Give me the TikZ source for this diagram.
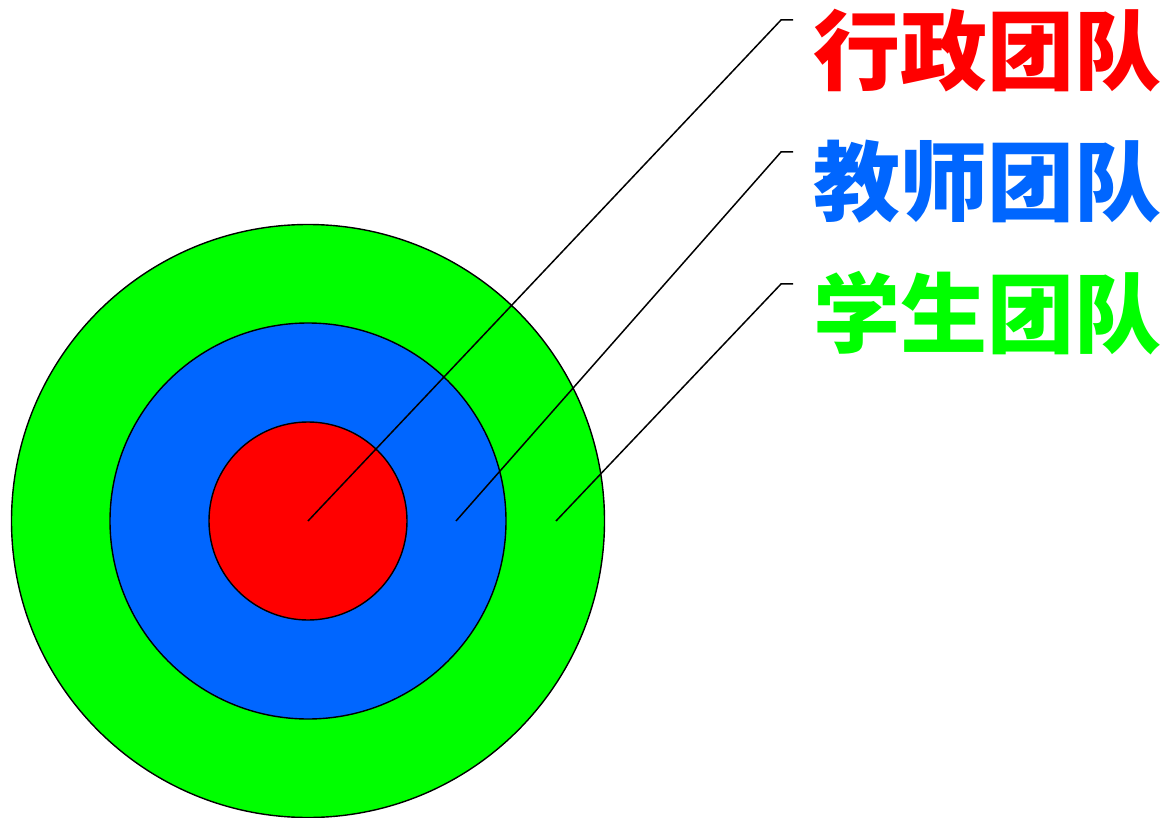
\documentclass[tikz,border=0pt]{standalone}
\usepackage{fontspec}
\newfontfamily\cjk{Noto Sans CJK SC}
\definecolor{ringred}{HTML}{FF0000}
\definecolor{ringblue}{HTML}{0066FF}
\definecolor{ringgreen}{HTML}{00FF00}
\tikzset{
  ring/.style={circle, draw=black, line width=1.4pt, inner sep=0pt},
  leader/.style={draw=black, line width=1.5pt},
  teamlabel/.style={font=\cjk\bfseries\fontsize{87}{87}\selectfont, inner sep=0pt, anchor=center}
}
\begin{document}
\begin{tikzpicture}[x=1pt, y=-1pt]
\useasboundingbox (0,0) rectangle (1167,818);
\node[ring, fill=ringgreen, minimum size=593pt] (outer) at (308,521) {};
\node[ring, fill=ringblue, minimum size=396pt] (middle) at (308,521) {};
\node[ring, fill=ringred, minimum size=198pt] (inner) at (308,521) {};
\coordinate (p1) at (308,521);
\coordinate (p2) at (456,521);
\coordinate (p3) at (556,521);
\coordinate (e1) at (781,20);
\coordinate (e2) at (781,152);
\coordinate (e3) at (781,284);
\coordinate (t1) at (793,20);
\coordinate (t2) at (793,152);
\coordinate (t3) at (793,284);
\draw[leader] (p1) -- (e1) -- (t1);
\draw[leader] (p2) -- (e2) -- (t2);
\draw[leader] (p3) -- (e3) -- (t3);
\node[teamlabel, text=ringred] (l1) at (987,51) {行政团队};
\node[teamlabel, text=ringblue] (l2) at (987,182) {教师团队};
\node[teamlabel, text=ringgreen] (l3) at (987,313) {学生团队};
\end{tikzpicture}
\end{document}
